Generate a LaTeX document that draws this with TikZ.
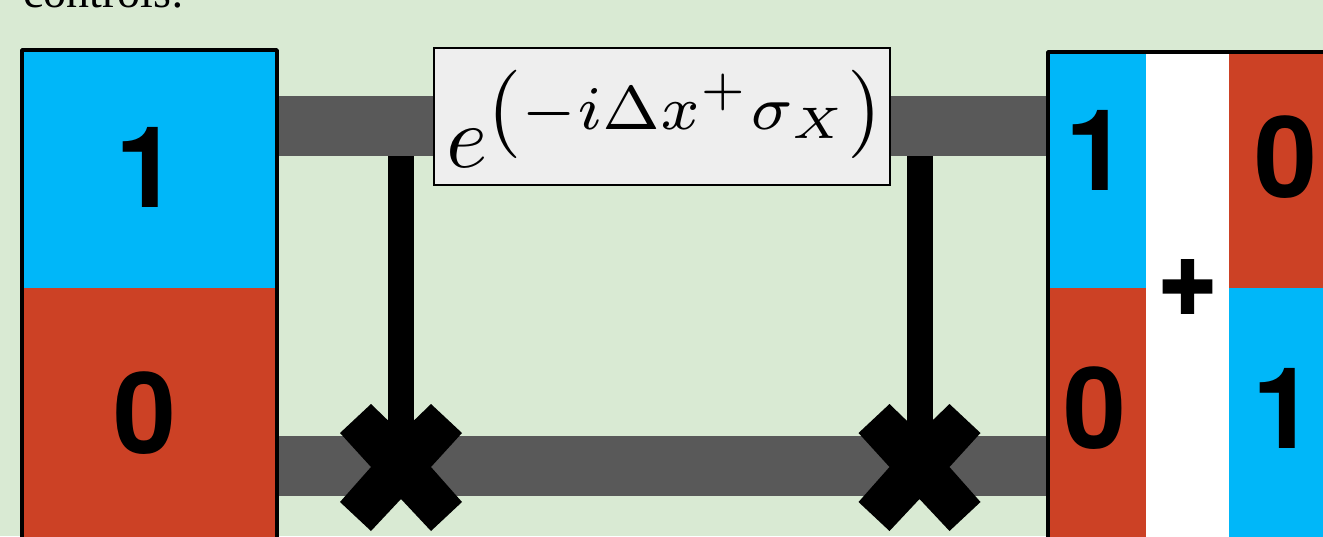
\documentclass[tikz,border=0pt]{standalone}
\usepackage{fontspec}
\setmainfont{Liberation Serif}
\newfontfamily\digitfont{TeX Gyre Heros}
\newfontfamily\plusfont{TeX Gyre Heros Bold}[FakeBold=3]
\definecolor{bgc}{HTML}{D9EAD3}
\definecolor{bluec}{HTML}{00B7F9}
\definecolor{redc}{HTML}{CC4125}
\definecolor{wirec}{HTML}{595959}
\definecolor{gatec}{HTML}{EEEEEE}
\tikzset{
  cell/.style={draw=none,inner sep=0pt,outer sep=0pt,minimum width=#1,anchor=north west},
  bluecell/.style={cell=#1,fill=bluec},
  redcell/.style={cell=#1,fill=redc},
  whitecell/.style={cell=#1,fill=white},
  digit/.style={inner sep=0pt,font=\digitfont\bfseries\fontsize{113}{113}\selectfont,text=black},
  outline/.style={draw=black,line width=3.5pt,line join=round,fill=none},
  wire/.style={draw=wirec,line width=60pt},
  ctrl/.style={draw=black,line width=26pt},
  crossmark/.style={fill=black,draw=none},
  gatebox/.style={draw=black,line width=2.2pt,fill=gatec,minimum width=456pt,minimum height=137pt,inner sep=0pt,outer sep=0pt},
}
\newcommand{\crossat}[1]{
  \fill[crossmark,shift={(#1)}] (-30,-63) -- (0,-34) -- (30,-63) -- (61,-34) -- (30,0) -- (61,35) -- (30,64) -- (0,32) -- (-30,64) -- (-61,35) -- (-30,0) -- (-61,-34) -- cycle;
}
\begin{document}
\begin{tikzpicture}[x=1pt,y=-1pt]
\useasboundingbox (0,0) rectangle (1323,536);
\clip (0,0) rectangle (1323,536);
\fill[bgc] (0,0) rectangle (1323,536);
\node[anchor=base west,inner sep=0pt,font=\fontsize{46}{46}\selectfont] (caption) at (23,7.5) {controls:};

% left state box
\node[bluecell=255pt,minimum height=238pt] (ltop) at (22,50) {};
\node[redcell=255pt,minimum height=260pt] (lbot) at (22,288) {};
\node[digit] (lone) at (147,167) {1};
\node[digit] (lzero) at (145,413) {0};

% right state box
\node[bluecell=98pt,minimum height=236pt] (ra1) at (1048,52) {};
\node[redcell=98pt,minimum height=260pt] (ra0) at (1048,288) {};
\node[whitecell=83pt,minimum height=500pt] (rmid) at (1146,52) {};
\node[redcell=100pt,minimum height=236pt] (rb0) at (1229,52) {};
\node[bluecell=100pt,minimum height=260pt] (rb1) at (1229,288) {};
\node[digit] (rone) at (1097,150) {1};
\node[digit] (rzero) at (1095,408) {0};
\node[digit] (rzeroB) at (1286,157) {0};
\node[digit] (roneB) at (1284,408) {1};
\node[inner sep=0pt,font=\plusfont\fontsize{101}{101}\selectfont,yscale=1.1] (plus) at (1187.5,287.5) {+};

% wires
\coordinate (w1l) at (277,126);
\coordinate (w1r) at (1048,126);
\coordinate (w2l) at (277,466);
\coordinate (w2r) at (1048,466);
\coordinate (c1) at (401,467);
\coordinate (c2) at (919.5,467);
\coordinate (t1) at (401,156);
\coordinate (t2) at (919.5,156);
\draw[ctrl] (t1) -- (c1);
\draw[ctrl] (t2) -- (c2);
\draw[wire] (w1l) -- (w1r);
\draw[wire] (w2l) -- (w2r);
\crossat{c1}
\crossat{c2}

% box outlines
\draw[outline] (22,50) rectangle (277,570);
\draw[outline] (1340,52) -- (1048,52) -- (1048,570);

% gate
\node[gatebox] (gate) at (662,116.5) {};
\node[inner sep=0pt,scale=8.84] (formula) at (666.5,119) {$e^{\left(-i\Delta x^{+}\sigma_{X}\right)}$};
\end{tikzpicture}
\end{document}
